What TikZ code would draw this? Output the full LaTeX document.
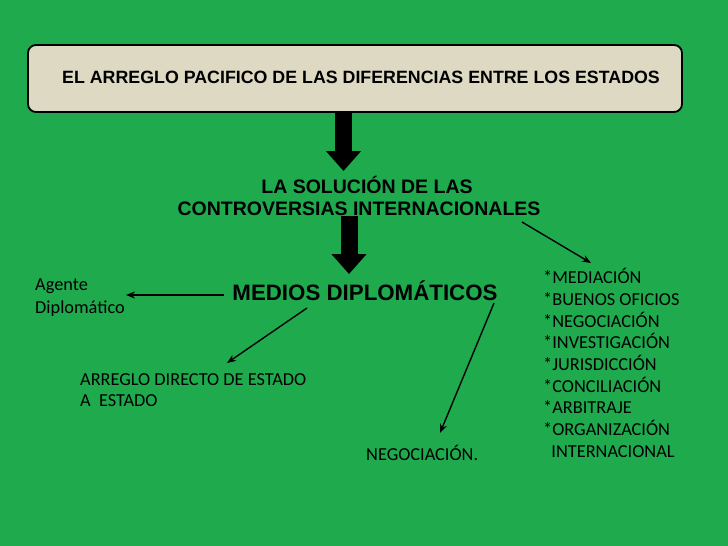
\documentclass[tikz,border=0pt]{standalone}
\usepackage{fontspec}
\setmainfont{Carlito}
\newfontfamily\hd{Liberation Sans}
\usetikzlibrary{arrows.meta}
\definecolor{bg}{HTML}{1FAA4E}
\definecolor{boxc}{HTML}{DDD9C3}
\begin{document}
\begin{tikzpicture}[x=1pt,y=-1pt,
  head/.style={font=\hd\bfseries\fontsize{17.8}{20}\selectfont, text=black},
  body/.style={font=\fontsize{18.3}{22}\selectfont, align=left, anchor=west, inner sep=0},
  thin/.style={-{Stealth[length=9pt,width=7pt]}, line width=1.4pt},
  fat/.style={-{Triangle[length=20pt,width=34pt]}, line width=17pt}]
\fill[bg] (0,0) rectangle (728,546);
\useasboundingbox (0,0) rectangle (728,546);
\node[draw, line width=1.8pt, fill=boxc, rounded corners=8pt, minimum width=654, minimum height=67] (top) at (355,78.5) {};
\node[head] at (361,77) (t1) {EL ARREGLO PACIFICO DE LAS DIFERENCIAS ENTRE LOS ESTADOS};
\node[head, align=center, font=\hd\bfseries\fontsize{19.5}{21.5}\selectfont] (sol) at (359,196) {\hspace*{16pt}LA SOLUCIÓN DE LAS\\CONTROVERSIAS INTERNACIONALES};
\node[head, font=\hd\bfseries\fontsize{22.3}{24}\selectfont] (med) at (365,291) {MEDIOS DIPLOMÁTICOS};
\coordinate (a1s) at (343.5,112.5); \coordinate (a1e) at (343.5,171);
\draw[fat] (a1s) -- (a1e);
\coordinate (a2s) at (349,216); \coordinate (a2e) at (349,274);
\draw[fat] (a2s) -- (a2e);
\node[body, font=\fontsize{18.3}{23}\selectfont] (ag) at (35,298) {Agente\\Diplomático};
\node[body, font=\fontsize{18.3}{21}\selectfont] (arr) at (80,390) {ARREGLO DIRECTO DE ESTADO\\A\ \ ESTADO};
\node[body] (neg) at (366,453) {NEGOCIACIÓN.};
\node[body, font=\fontsize{18.3}{21.7}\selectfont] (list) at (543,363) {*MEDIACIÓN\\*BUENOS OFICIOS\\*NEGOCIACIÓN\\*INVESTIGACIÓN\\*JURISDICCIÓN\\*CONCILIACIÓN\\*ARBITRAJE\\*ORGANIZACIÓN\\\ \ INTERNACIONAL};
\coordinate (p1) at (224,295); \coordinate (q1) at (126,295);
\coordinate (p2) at (307,308); \coordinate (q2) at (227,363);
\coordinate (p3) at (494,303); \coordinate (q3) at (440,433);
\coordinate (p4) at (522,222); \coordinate (q4) at (591,263);
\draw[thin] (p1) -- (q1);
\draw[thin] (p2) -- (q2);
\draw[thin] (p3) -- (q3);
\draw[thin] (p4) -- (q4);
\end{tikzpicture}
\end{document}
